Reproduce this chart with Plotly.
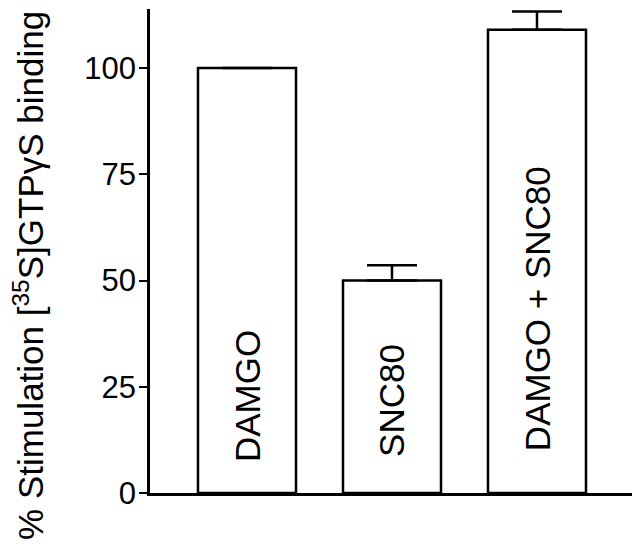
import plotly.graph_objects as go

categories = ["DAMGO", "SNC80", "DAMGO + SNC80"]
values = [100, 50, 109]
errors_up = [0, 3.6, 4.3]
label_centers = [22.8, 21.9, 43.5]
y_ticks = [0, 25, 50, 75, 100]

FONT = "Liberation Sans, Arial, Helvetica, sans-serif"

fig = go.Figure()
fig.add_trace(go.Bar(
    x=categories, y=values, width=0.676,
    marker=dict(color="white", line=dict(color="black", width=2.5)),
    error_y=dict(type="data", symmetric=False, array=errors_up,
                 arrayminus=[0, 0, 0], color="black", thickness=2.5, width=25,
                 visible=True),
    showlegend=False, hoverinfo="skip",
))

for cat, yc in zip(categories, label_centers):
    fig.add_annotation(x=cat, y=yc, xref="x", yref="y", text=cat,
                       textangle=-90, showarrow=False,
                       font=dict(family=FONT, size=35, color="black"),
                       xanchor="center", yanchor="middle")

# page offset of 8px (body margin) compensated: plot area at page x 150..635, y 9..493
fig.add_annotation(x=-0.25, y=0.45, xref="paper", yref="paper",
                   text="% Stimulation [<sup>35</sup>S]GTPγS binding",
                   textangle=-90, showarrow=False,
                   font=dict(family=FONT, size=35, color="black"),
                   xanchor="center", yanchor="middle")

fig.update_layout(
    width=632, height=538,
    margin=dict(l=142, r=5, t=1, b=53),
    paper_bgcolor="white", plot_bgcolor="white",
    font=dict(family=FONT, color="black"),
    xaxis=dict(type="category", range=[-0.669, 2.676], showticklabels=False,
               ticks="", showline=True, linecolor="black", linewidth=2.5,
               showgrid=False, zeroline=False, fixedrange=True),
    yaxis=dict(range=[0, 113.9], tickvals=y_ticks, ticks="outside",
               ticklen=8, tickwidth=2, tickcolor="black",
               showline=True, linecolor="black", linewidth=2.5,
               showgrid=False, zeroline=False, ticklabelstandoff=-3,
               tickfont=dict(family=FONT, size=31, color="black")),
    bargap=0.3,
)

fig.write_html("out.html")
